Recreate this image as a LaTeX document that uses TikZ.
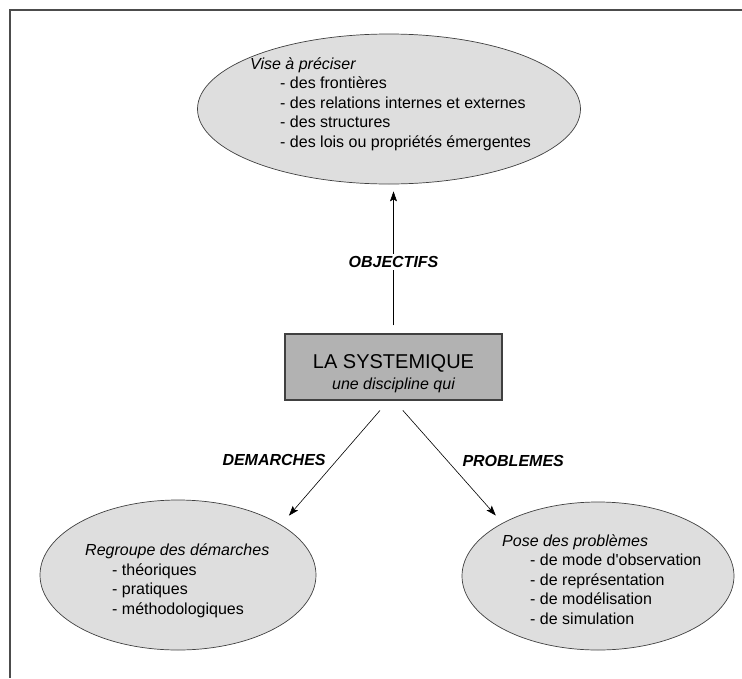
\documentclass[tikz,border=0pt]{standalone}
\usepackage{fontspec}
\setmainfont{Liberation Sans}
\usetikzlibrary{shapes.geometric,arrows.meta}

\tikzset{
	bulle/.style={ellipse,draw=black!75,fill=black!13,line width=0.7pt,inner sep=0pt},
	boite/.style={draw=black!75,fill=black!30,line width=1.2pt,inner sep=0pt},
	texte/.style={inner sep=0pt,align=left,anchor=base west,font=\fontsize{16}{19.5}\selectfont},
	etiquette/.style={inner sep=2pt,font=\fontsize{16}{19}\selectfont\bfseries\itshape},
	fleche/.style={-{Stealth[length=10pt,width=7pt,inset=2pt]},line width=0.6pt}
}

\begin{document}
\begin{tikzpicture}[x=1pt,y=-1pt]
				\useasboundingbox (0,0) rectangle (742,678);
				\draw[black!70,line width=1.1pt] (742,10) -- (10,10) -- (10,678);
				\node[bulle,minimum width=383pt,minimum height=150pt] (vise) at (389,109) {};
				\node[bulle,minimum width=276pt,minimum height=150pt] (regroupe) at (178,575) {};
				\node[bulle,minimum width=272pt,minimum height=148pt] (pose) at (598,576) {};
				\node[boite,minimum width=217pt,minimum height=66pt,
				label={[align=center,yshift=-6.5pt]center:{\fontsize{20}{22}\selectfont LA SYSTEMIQUE\\[4pt]\fontsize{16}{18}\selectfont\itshape une discipline qui}}]
				(systemique) at (393.5,367) {};
				\node[texte] (txtvise) at (250,147) {\textit{Vise à préciser}\\
				\hspace*{30pt}- des frontières\\
				\hspace*{30pt}- des relations internes et externes\\
				\hspace*{30pt}- des structures\\
				\hspace*{30pt}- des lois ou propriétés émergentes};
				\node[texte] (txtregroupe) at (85,614) {\textit{Regroupe des démarches}\\
				\hspace*{27pt}- théoriques\\
				\hspace*{27pt}- pratiques\\
				\hspace*{27pt}- méthodologiques};
				\node[texte] (txtpose) at (502,624) {\textit{Pose des problèmes}\\
				\hspace*{28pt}- de mode d\textquotesingle observation\\
				\hspace*{28pt}- de représentation\\
				\hspace*{28pt}- de modélisation\\
				\hspace*{28pt}- de simulation};
				\draw[fleche,shorten <=8pt,shorten >=7pt] (systemique.north) -- (systemique.north |- vise.south)
				node[etiquette,fill=white,pos=0.48] {OBJECTIFS};
				\draw[fleche,shorten <=13pt,shorten >=12pt] ([xshift=-5pt]systemique.south) -- (regroupe.26)
				node[etiquette,pos=0.48,left=9pt] {DEMARCHES};
				\draw[fleche,shorten <=13pt,shorten >=10pt] ([xshift=0.7pt]systemique.south) -- (pose.151)
				node[etiquette,pos=0.49,right=13pt] {PROBLEMES};
			\end{tikzpicture}
\end{document}
